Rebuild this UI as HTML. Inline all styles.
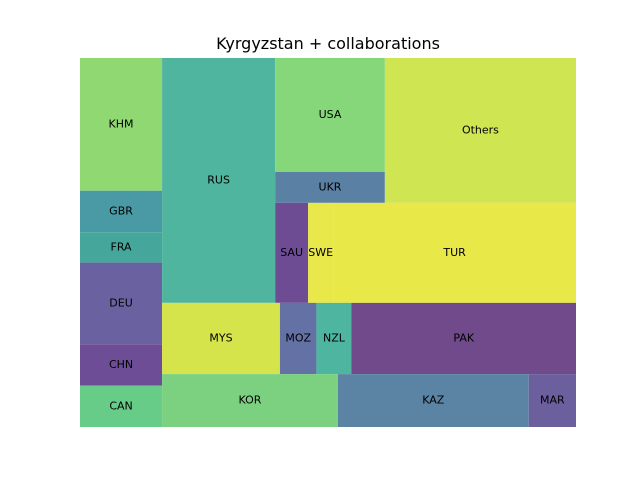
<!DOCTYPE html>
<html><head><meta charset="utf-8"><style>
body{margin:0;background:#fff;}
svg{display:block;font-family:"DejaVu Sans","Liberation Sans",sans-serif;}
</style></head><body>
<svg id="chart" width="640" height="480">
<text x="328" y="49" text-anchor="middle" font-size="16" fill="#000">Kyrgyzstan + collaborations</text>
<g id="cells"></g>
</svg>
<script>
// Leaf data (values ~ area)
const labels = ["KHM","GBR","FRA","DEU","CHN","CAN","RUS","USA","UKR","Others","SAU","SWE","TUR","MYS","MOZ","NZL","PAK","KOR","KAZ","MAR"];
const values = [109,34,25,67,34,34,277,125,34,277,33,25,243,84,26,25,160,93,101,25];
const colors = ["#8fd872","#4a9aa6","#45a79c","#6a62a0","#6d4e96","#66cc88","#50b59e","#86d77a","#5a80a4","#cfe551","#6d4c94","#e8e84a","#e8e848","#d6e44c","#6371a4","#4db5a0","#704a8a","#7bd180","#5b83a3","#6b5f9e"];
// Layout tree: h = side-by-side, v = stacked; numbers are leaf indices
const tree = {d:"h",c:[
  {d:"v",c:[0,1,2,3,4,5]},
  {d:"v",c:[
    {d:"h",c:[6,{d:"v",c:[{d:"h",c:[{d:"v",c:[7,8]},9]},{d:"h",c:[10,11,12]}]}]},
    {d:"h",c:[13,14,15,16]},
    {d:"h",c:[17,18,19]}
  ]}
]};
function total(n){return typeof n==="number"?values[n]:n.c.reduce((s,k)=>s+total(k),0);}
const g=document.getElementById("cells");
const NS="http://www.w3.org/2000/svg";
function place(n,x,y,w,h){
  if(typeof n==="number"){
    const r=document.createElementNS(NS,"rect");
    r.setAttribute("x",x);r.setAttribute("y",y);r.setAttribute("width",w);r.setAttribute("height",h);
    r.setAttribute("fill",colors[n]);
    
    
    g.appendChild(r);
    const t=document.createElementNS(NS,"text");
    t.setAttribute("x",x+w/2);t.setAttribute("y",y+h/2+3);
    t.setAttribute("text-anchor","middle");t.setAttribute("font-size","11");
    t.textContent=labels[n];
    
    
    g.appendChild(t);
    return;
  }
  const T=total(n);let off=0;
  n.c.forEach(k=>{
    const f=total(k)/T;
    if(n.d==="h"){place(k,x+off,y,w*f,h);off+=w*f;}
    else{place(k,x,y+off,w,h*f);off+=h*f;}
  });
}
place(tree,80,58,496,369);
</script>
</body></html>
